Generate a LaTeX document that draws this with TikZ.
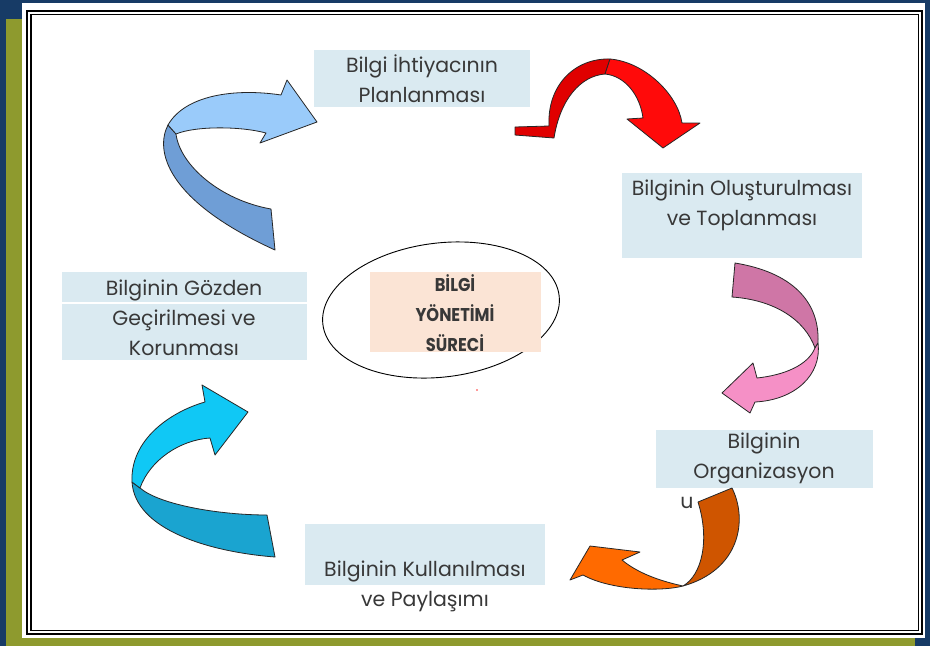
\documentclass[tikz,border=0pt]{standalone}
\usepackage{fontspec}
\setmainfont{Poppins}
\definecolor{navy}{HTML}{173B66}
\definecolor{olivec}{HTML}{8E9A2E}
\definecolor{boxblue}{HTML}{DAEAF1}
\definecolor{peach}{HTML}{FBE4D5}
\definecolor{txtc}{HTML}{383838}
\definecolor{lbfront}{HTML}{9ACBFA}
\definecolor{lbback}{HTML}{6F9ED6}
\definecolor{redback}{HTML}{E00000}
\definecolor{redfront}{HTML}{FF0A0A}
\definecolor{pkback}{HTML}{CF76A6}
\definecolor{pkfront}{HTML}{F590C6}
\definecolor{orback}{HTML}{CF5500}
\definecolor{orfront}{HTML}{FF6A00}
\definecolor{cyfront}{HTML}{10C8F5}
\definecolor{cyback}{HTML}{1AA4D0}
\begin{document}
\begin{tikzpicture}[x=1pt,y=-1pt,
  lbl/.style={font=\fontsize{20.5}{30}\selectfont, align=center, text=txtc, inner sep=0pt},
  boldlbl/.style={font=\addfontfeature{FakeStretch=0.88}\bfseries\fontsize{18.5}{30}\selectfont, align=center, text=txtc, inner sep=0pt},
  box/.style={fill=boxblue},
  rib/.style={draw=black!85, line width=0.8pt, line join=round},
]
\useasboundingbox (0,0) rectangle (930,646);
% background and frame
\fill[navy] (0,0) rectangle (930,646);
\fill[olivec] (6,19) rectangle (22,646);
\fill[olivec] (6,638) rectangle (915,646);
\fill[white] (22,3) rectangle (925,638);
\draw[black, line width=2.2pt] (27,11) rectangle (922,634);
\draw[black, line width=1.6pt] (31,14.5) rectangle (918.5,630.5);

% text boxes
\fill[box] (314,50) rectangle (530,107);
\node[lbl] (t1) at (422,79) {Bilgi İhtiyacının\\Planlanması};

\fill[box] (622,173) rectangle (862,258);
\node[lbl] (t2) at (742,205) {Bilginin Oluşturulması\\ve Toplanması};

\fill[box] (656,430) rectangle (873,488);
\node[lbl] (t3) at (764,458) {Bilginin\\Organizasyon};
\node[lbl] (t3u) at (687,503) {u};

\fill[box] (305,524) rectangle (545,585);
\node[lbl] (t4) at (425,586) {Bilginin Kullanılması\\ve Paylaşımı};

\fill[box] (62,272) rectangle (307,360);
\draw[white, line width=1.5pt] (62,303) -- (307,303);
\node[lbl] (t5) at (184,318) {Bilginin Gözden\\Geçirilmesi ve\\Korunması};

% centre
\draw[black, line width=0.9pt, rotate around={7:(441,310)}] (441,310) ellipse [x radius=119, y radius=67];
\fill[peach] (370,272) rectangle (541,352);
\node[boldlbl] (c) at (455,313) {BİLGİ\\YÖNETİMİ\\SÜRECİ};
\fill[red!80] (477,390) circle (0.9);

% arrow A (light blue, top left)
\filldraw[rib, fill=lbback] (168,125) .. controls (155,150) and (165,200) .. (275,250)
  -- (271,209) .. controls (220,200) and (180,165) .. (176,134) -- cycle;
\filldraw[rib, fill=lbfront] (281,95) .. controls (235,88) and (185,95) .. (168,125)
  -- (176,134) .. controls (195,126) and (240,126) .. (266,133)
  -- (260,143) -- (317,122) -- (287,80) -- cycle;

% arrow B (red, top right)
\filldraw[rib, fill=redback] (515,127) -- (549,126) .. controls (547,85) and (575,58) .. (610,59)
  -- (605,74) .. controls (580,76) and (560,100) .. (554,138) -- (515,135) -- cycle;
\filldraw[rib, fill=redfront] (610,59) .. controls (645,62) and (678,95) .. (682,123)
  -- (700,123) -- (663,148) -- (627,119) -- (643,118)
  .. controls (640,95) and (625,76) .. (605,74) -- cycle;

% arrow C (pink, right)
\filldraw[rib, fill=pkback] (735,263) .. controls (790,272) and (820,300) .. (818,343)
  -- (815,348) .. controls (805,320) and (775,300) .. (732,297) -- cycle;
\filldraw[rib, fill=pkfront] (818,343) .. controls (822,375) and (795,400) .. (755,402)
  -- (750,413) -- (722,393) -- (753,363) -- (757,378)
  .. controls (785,375) and (808,365) .. (815,348) -- cycle;

% arrow D (orange, bottom right)
\filldraw[rib, fill=orback] (698,502) -- (732,488) .. controls (748,520) and (740,570) .. (683,586)
  .. controls (702,575) and (710,540) .. (698,502) -- cycle;
\filldraw[rib, fill=orfront] (683,586) .. controls (660,592) and (610,590) .. (583,575)
  -- (570,580) -- (590,546) -- (640,552) -- (622,560)
  .. controls (640,575) and (665,582) .. (683,586) -- cycle;

% arrow E (cyan, bottom left)
\filldraw[rib, fill=cyback] (132,482) .. controls (135,530) and (210,552) .. (275,557)
  -- (267,515) .. controls (220,515) and (160,505) .. (140,488) -- cycle;
\filldraw[rib, fill=cyfront] (205,402) .. controls (170,412) and (130,440) .. (132,482)
  -- (140,488) .. controls (150,460) and (180,440) .. (210,438)
  -- (215,455) -- (248,412) -- (202,385) -- cycle;
\end{tikzpicture}
\end{document}
